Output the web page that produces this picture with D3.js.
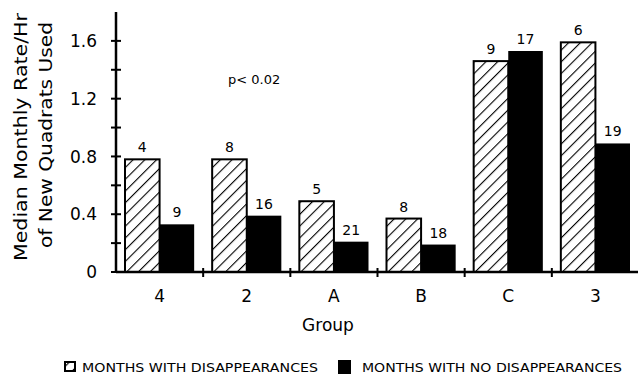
<!DOCTYPE html>
<html>
<head>
    <script src="https://cdnjs.cloudflare.com/ajax/libs/d3/7.8.5/d3.min.js"></script>
    <style>
        body { margin: 0; background: #fff; }
        text { font-family: "DejaVu Sans", sans-serif; fill: #000; }
    </style>
</head>
<body>
<div id="chart"></div>
<script>
    // data
    var groups = ["4", "2", "A", "B", "C", "3"];
    var withDisap = [0.78, 0.78, 0.49, 0.37, 1.46, 1.59];
    var noDisap = [0.33, 0.39, 0.21, 0.19, 1.53, 0.89];
    var withN = [4, 8, 5, 8, 9, 6];
    var noN = [9, 16, 21, 18, 17, 19];
    var yTicks = [0, 0.4, 0.8, 1.2, 1.6];
    var seriesNames = ["MONTHS WITH DISAPPEARANCES", "MONTHS WITH NO DISAPPEARANCES"];

    var width = 638, height = 380;
    var margin = {left: 116, right: 0, top: 12, bottom: 108};

    var svg = d3.select("#chart").append("svg")
        .attr("width", width)
        .attr("height", height);

    var defs = svg.append("defs");
    var pat = defs.append("pattern")
        .attr("id", "hatch")
        .attr("patternUnits", "userSpaceOnUse")
        .attr("width", 8.3)
        .attr("height", 8.3)
        .attr("patternTransform", "rotate(45)");
    pat.append("rect").attr("width", 8.3).attr("height", 8.3).attr("fill", "#fff");
    pat.append("line")
        .attr("x1", 0).attr("y1", 0).attr("x2", 0).attr("y2", 8.3)
        .attr("stroke", "#000").attr("stroke-width", 2.2);

    var x = d3.scaleBand()
        .domain(groups)
        .range([margin.left, width - margin.right + 1])
        .paddingInner(0)
        .paddingOuter(0);

    var sub = d3.scaleBand()
        .domain([0, 1])
        .range([9, x.bandwidth() - 9]);

    var y = d3.scaleLinear()
        .domain([0, 1.8])
        .range([height - margin.bottom, margin.top]);

    // bars
    var g = svg.selectAll(".grp")
        .data(groups)
        .enter().append("g")
        .attr("transform", function (d) { return "translate(" + x(d) + ",0)"; });

    g.append("rect")
        .attr("x", sub(0))
        .attr("y", function (d, i) { return y(withDisap[i]); })
        .attr("width", sub.bandwidth())
        .attr("height", function (d, i) { return y(0) - y(withDisap[i]); })
        .attr("fill", "url(#hatch)")
        .attr("stroke", "#000")
        .attr("stroke-width", 2);

    g.append("rect")
        .attr("x", sub(1))
        .attr("y", function (d, i) { return y(noDisap[i]); })
        .attr("width", sub.bandwidth())
        .attr("height", function (d, i) { return y(0) - y(noDisap[i]); })
        .attr("fill", "#000");

    g.append("text")
        .attr("x", sub(0) + sub.bandwidth() / 2)
        .attr("y", function (d, i) { return y(withDisap[i]) - 7; })
        .attr("text-anchor", "middle")
        .attr("font-size", 14)
        .text(function (d, i) { return withN[i]; });

    g.append("text")
        .attr("x", sub(1) + sub.bandwidth() / 2)
        .attr("y", function (d, i) { return y(noDisap[i]) - 7; })
        .attr("text-anchor", "middle")
        .attr("font-size", 14)
        .text(function (d, i) { return noN[i]; });

    // y axis
    var yAxis = svg.append("g")
        .attr("transform", "translate(" + margin.left + ",0)");
    yAxis.append("line")
        .attr("x1", 0).attr("x2", 0)
        .attr("y1", y(0)).attr("y2", y(1.8))
        .attr("stroke", "#000").attr("stroke-width", 2.5);
    yAxis.selectAll(".minor")
        .data(d3.range(0, 9).map(function (i) { return i * 0.2; }))
        .enter().append("line")
        .attr("x1", -5).attr("x2", 5)
        .attr("y1", function (d) { return y(d); })
        .attr("y2", function (d) { return y(d); })
        .attr("stroke", "#000").attr("stroke-width", 2);
    yAxis.selectAll(".lab")
        .data(yTicks)
        .enter().append("text")
        .attr("x", -19)
        .attr("y", function (d) { return y(d); })
        .attr("dy", "0.36em")
        .attr("text-anchor", "end")
        .attr("font-size", 17)
        .text(function (d) { return d === 0 ? "0" : d.toFixed(1); });

    // x axis
    var xAxis = svg.append("g");
    xAxis.append("line")
        .attr("x1", margin.left).attr("x2", width)
        .attr("y1", y(0)).attr("y2", y(0))
        .attr("stroke", "#000").attr("stroke-width", 2.5);
    xAxis.selectAll(".tk")
        .data(groups.slice(1).concat(["end"]))
        .enter().append("line")
        .attr("x1", function (d, i) { return x(groups[i]) + x.bandwidth(); })
        .attr("x2", function (d, i) { return x(groups[i]) + x.bandwidth(); })
        .attr("y1", y(0) - 4).attr("y2", y(0) + 5)
        .attr("stroke", "#000").attr("stroke-width", 2);
    xAxis.selectAll(".lab")
        .data(groups)
        .enter().append("text")
        .attr("x", function (d) { return x(d) + x.bandwidth() / 2; })
        .attr("y", y(0) + 30)
        .attr("text-anchor", "middle")
        .attr("font-size", 17)
        .text(function (d) { return d; });

    svg.append("text")
        .attr("x", 328).attr("y", 331)
        .attr("text-anchor", "middle")
        .attr("font-size", 17)
        .text("Group");

    // y title
    svg.append("text")
        .attr("transform", "translate(27,137) rotate(-90)")
        .attr("text-anchor", "middle")
        .attr("font-size", 18)
        .attr("textLength", 248)
        .attr("lengthAdjust", "spacingAndGlyphs")
        .text("Median Monthly Rate/Hr");
    svg.append("text")
        .attr("transform", "translate(52,135) rotate(-90)")
        .attr("text-anchor", "middle")
        .attr("font-size", 18)
        .attr("textLength", 226)
        .attr("lengthAdjust", "spacingAndGlyphs")
        .text("of New Quadrats Used");

    svg.append("text")
        .attr("x", 228).attr("y", 84)
        .attr("font-size", 13)
        .text("p< 0.02");

    // legend
    var leg = svg.append("g").attr("transform", "translate(0,372)");
    leg.append("rect")
        .attr("x", 65).attr("y", -10).attr("width", 10).attr("height", 9)
        .attr("fill", "url(#hatch)").attr("stroke", "#000").attr("stroke-width", 2);
    leg.append("text")
        .attr("x", 82).attr("y", 0)
        .attr("font-size", 13)
        .attr("textLength", 236)
        .attr("lengthAdjust", "spacingAndGlyphs")
        .text(seriesNames[0]);
    leg.append("rect")
        .attr("x", 338).attr("y", -12).attr("width", 13).attr("height", 14)
        .attr("fill", "#000");
    leg.append("text")
        .attr("x", 362).attr("y", 0)
        .attr("font-size", 13)
        .attr("textLength", 260)
        .attr("lengthAdjust", "spacingAndGlyphs")
        .text(seriesNames[1]);
</script>
</html>
